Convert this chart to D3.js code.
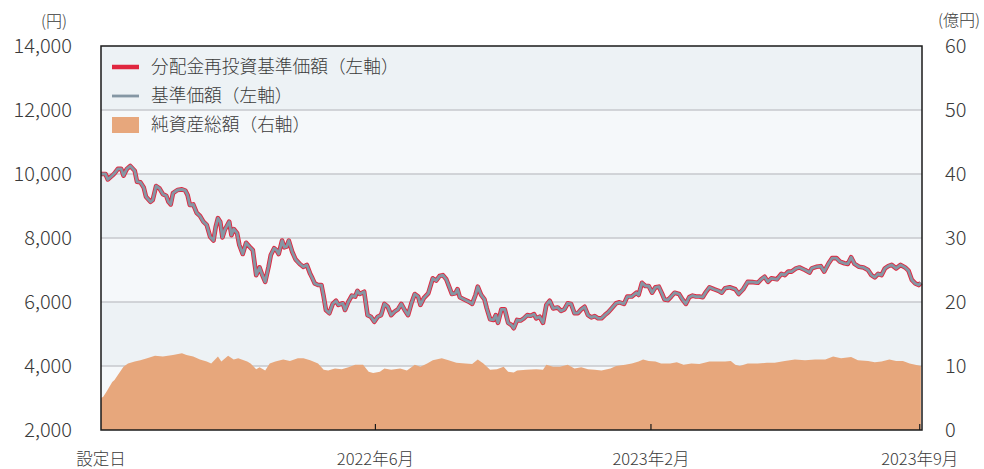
<!DOCTYPE html>
<html>
<head>
<meta charset="utf-8">
<script src="https://cdn.jsdelivr.net/npm/d3@7"></script>
<style>
  html, body { margin: 0; padding: 0; background: #ffffff; }
  svg { display: block; font-family: "Noto Sans CJK JP", "Noto Sans", sans-serif; }
</style>
</head>
<body>
<svg id="chart" width="984" height="469"></svg>
<script>
// ---------------- DATA ----------------
const settingDate = "2021-09-30";           // 設定日
const lastDayOffset = 729;                  // last data day (days after setting date)

// 基準価額 (円): days after setting date, and values
const navDays = [0,4,6,10,12,15,18,20,23,26,30,32,35,38,40,44,46,49,52,55,58,60,62,64,68,72,75,77,79,82,85,88,91,94,97,100,102,104,106,108,110,114,116,118,121,123,126,129,132,135,138,141,143,146,149,151,154,156,158,161,163,165,167,170,173,177,180,183,186,188,190,193,196,198,200,203,206,209,211,215,217,220,223,226,228,230,234,237,240,243,246,249,252,255,258,261,264,267,270,273,276,279,282,284,287,291,295,298,301,304,307,309,312,315,317,319,323,327,330,333,335,338,341,343,346,349,351,353,356,359,362,365,367,370,373,376,379,382,385,387,390,393,396,399,402,406,409,412,415,418,421,424,427,430,433,436,439,442,445,448,451,454,458,461,465,468,472,476,478,481,484,487,490,493,496,499,501,504,507,510,514,517,520,523,526,529,532,535,538,541,545,549,552,555,559,564,567,571,575,580,584,587,590,593,596,601,605,608,611,614,618,621,626,630,632,636,640,643,647,650,654,657,661,664,667,670,674,678,682,685,688,691,694,697,700,703,707,711,715,718,721,724,727,729];
const navValues = [10000,10000,9830,9950,10020,10160,10160,9950,10160,10250,10100,9760,9740,9580,9290,9130,9190,9625,9550,9370,9320,9130,9050,9400,9500,9520,9480,9340,9030,9050,8790,8690,8510,8410,8040,7920,8350,8620,8510,8020,8250,8510,8090,8280,8150,7780,7500,7850,7730,7620,6840,7080,6880,6630,7100,7470,7680,7620,7500,7920,7710,7730,7920,7570,7330,7180,7100,7160,6880,6740,6580,6530,6530,6170,5750,5650,5940,6040,5910,5960,5750,6010,6200,6170,6350,6250,6320,5590,5540,5380,5540,5590,5940,5850,5590,5700,5770,5940,5750,5590,5960,6250,6170,5910,6120,6270,6740,6670,6810,6840,6710,6530,6250,6270,6400,6150,6080,6010,5940,6220,6480,6220,6080,5800,5460,5440,5590,5350,5770,5770,5350,5280,5180,5440,5420,5490,5590,5570,5620,5490,5540,5350,5910,6040,5800,5830,5720,5770,5960,5940,5650,5650,5770,5850,5590,5520,5560,5490,5490,5590,5680,5800,5960,5990,5940,6170,6170,6290,6220,6600,6500,6500,6290,6460,6480,6250,6080,6060,6170,6290,6250,6080,5940,6150,6200,6170,6170,6150,6320,6460,6400,6350,6290,6430,6460,6400,6250,6400,6630,6620,6600,6710,6790,6630,6740,6710,6880,6840,6950,6950,7050,7080,7000,6920,7050,7100,7120,6950,7210,7370,7370,7260,7210,7190,7400,7190,7100,7080,7000,6840,6770,6880,6840,7050,7120,7160,7050,7160,7080,6980,6690,6580,6530,6600];
// 分配金再投資基準価額 (円): no distributions paid, so identical to 基準価額
const reinvestedValues = navValues.slice();

// 純資産総額 (億円)
const assetDays = [0,2,5,10,12,15,20,24,30,35,41,48,55,64,72,76,82,88,94,98,104,107,113,118,122,130,133,138,141,146,150,155,162,168,175,180,186,193,198,202,208,214,220,226,233,238,242,248,252,258,266,272,279,284,290,295,303,309,316,324,330,335,340,346,352,358,362,367,370,378,387,393,396,402,408,415,421,427,433,439,445,453,458,466,472,478,482,487,493,498,506,512,518,525,532,541,549,555,560,564,568,575,584,592,599,608,617,626,635,644,651,658,667,673,682,688,694,701,707,713,719,724,729];
const assetValues = [5.0,5.2,6.0,7.5,7.8,8.6,9.9,10.4,10.7,10.9,11.2,11.6,11.5,11.7,12.0,11.7,11.5,11.0,10.7,10.4,11.5,10.7,11.6,11.0,11.2,10.7,10.4,9.5,9.8,9.3,10.4,10.7,11.0,10.8,11.2,11.2,10.9,10.4,9.4,9.3,9.6,9.5,9.8,10.2,10.2,9.1,8.9,9.1,9.6,9.4,9.6,9.3,10.2,9.9,10.4,10.9,11.2,10.9,10.5,10.4,10.3,11.0,10.4,9.4,9.5,9.9,9.1,9.0,9.3,9.4,9.5,9.4,10.2,9.9,9.9,10.2,9.6,9.8,9.5,9.4,9.3,9.6,10.0,10.2,10.4,10.7,11.0,10.8,10.7,10.4,10.4,10.6,10.2,10.4,10.3,10.7,10.7,10.7,10.8,10.2,10.0,10.4,10.4,10.5,10.5,10.8,11.0,10.9,11.0,11.0,11.5,11.2,11.4,10.9,10.8,10.6,10.7,11.0,10.8,10.8,10.4,10.2,10.0];

// Axes
const leftTicks = [2000,4000,6000,8000,10000,12000,14000];
const rightTicks = [0,10,20,30,40,50,60];
const xTickDates = ["2021-09-30","2022-06-01","2023-02-01","2023-09-28"];
const xTickLabels = ["設定日","2022年6月","2023年2月","2023年9月"];

const legendLabels = ["分配金再投資基準価額（左軸）","基準価額（左軸）","純資産総額（右軸）"];
const leftUnit = "(円)";
const rightUnit = "(億円)";

// ---------------- DRAW ----------------
const svg = d3.select("#chart");
const M = {left: 101, right: 922, top: 46, bottom: 430};
const parse = d3.timeParse("%Y-%m-%d");
const start = parse(settingDate);
const dayToDate = d => d3.timeDay.offset(start, d);

const x = d3.scaleTime()
  .domain([start, dayToDate(lastDayOffset + 1)])
  .range([M.left, M.right]);
const yL = d3.scaleLinear().domain([2000, 14000]).range([M.bottom, M.top]);
const yR = d3.scaleLinear().domain([0, 60]).range([M.bottom, M.top]);

const textColor = "#3a3a3a";

// background bands
const bands = d3.pairs(leftTicks);
svg.append("g").selectAll("rect").data(bands).join("rect")
  .attr("x", M.left).attr("width", M.right - M.left)
  .attr("y", d => yL(d[1])).attr("height", d => yL(d[0]) - yL(d[1]))
  .attr("fill", (d, i) => i % 2 === 0 ? "#f5f8fa" : "#edf2f5");

// gridlines
svg.append("g").selectAll("line").data(leftTicks.slice(1, -1)).join("line")
  .attr("x1", M.left).attr("x2", M.right)
  .attr("y1", d => yL(d)).attr("y2", d => yL(d))
  .attr("stroke", "#c6c9cc").attr("stroke-width", 1.5);

// net assets area
const assetData = assetDays.map((d, i) => ({date: dayToDate(d), v: assetValues[i]}));
const area = d3.area().x(d => x(d.date)).y0(yR(0)).y1(d => yR(d.v));
svg.append("path").datum(assetData)
  .attr("d", area).attr("fill", "#e7a77c");

// lines
const navData = navDays.map((d, i) => ({date: dayToDate(d), v: navValues[i]}));
const reinvData = navDays.map((d, i) => ({date: dayToDate(d), v: reinvestedValues[i]}));
const line = d3.line().x(d => x(d.date)).y(d => yL(d.v)).curve(d3.curveLinear);
svg.append("path").datum(reinvData).attr("d", line)
  .attr("fill", "none").attr("stroke", "#e0273f").attr("stroke-width", 4.6)
  .attr("stroke-linejoin", "round");
svg.append("path").datum(navData).attr("d", line)
  .attr("fill", "none").attr("stroke", "#8597a4").attr("stroke-width", 2.8)
  .attr("stroke-linejoin", "round");

// frame
svg.append("rect")
  .attr("x", M.left).attr("y", M.top)
  .attr("width", M.right - M.left).attr("height", M.bottom - M.top)
  .attr("fill", "none").attr("stroke", "#1a1a1a").attr("stroke-width", 1.5);

// left axis
const fmt = d3.format(",");
svg.append("g").selectAll("text").data(leftTicks).join("text")
  .attr("x", 72).attr("y", d => yL(d)).attr("dy", "0.36em")
  .attr("text-anchor", "end").attr("font-size", 20).attr("font-weight", 300).attr("fill", textColor)
  .text(d => fmt(d));
svg.append("text").attr("x", 54).attr("y", 21).attr("dy", "0.36em")
  .attr("text-anchor", "middle").attr("font-size", 16).attr("font-weight", 300).attr("fill", textColor)
  .text(leftUnit);

// right axis
svg.append("g").selectAll("text").data(rightTicks).join("text")
  .attr("x", 945).attr("y", d => yR(d)).attr("dy", "0.36em")
  .attr("text-anchor", "start").attr("font-size", 20).attr("font-weight", 300).attr("fill", textColor)
  .text(d => d);
svg.append("text").attr("x", 959).attr("y", 20).attr("dy", "0.36em")
  .attr("text-anchor", "middle").attr("font-size", 16).attr("font-weight", 300).attr("fill", textColor)
  .text(rightUnit);

// x axis ticks + labels
const xt = xTickDates.map((s, i) => ({date: parse(s), label: xTickLabels[i]}));
svg.append("g").selectAll("line").data(xt.slice(1)).join("line")
  .attr("x1", d => x(d.date)).attr("x2", d => x(d.date))
  .attr("y1", M.bottom).attr("y2", M.bottom - 6)
  .attr("stroke", "#1a1a1a").attr("stroke-width", 1.2);
svg.append("g").selectAll("text").data(xt).join("text")
  .attr("x", d => x(d.date)).attr("y", 459).attr("dy", "0.36em")
  .attr("text-anchor", "middle").attr("font-size", 16.5).attr("font-weight", 300).attr("fill", textColor)
  .text(d => d.label);

// legend
const lg = svg.append("g").attr("transform", "translate(112,0)");
const rows = [67, 96, 125];
lg.append("line").attr("x1", 0).attr("x2", 27).attr("y1", rows[0]).attr("y2", rows[0])
  .attr("stroke", "#e0273f").attr("stroke-width", 4.5);
lg.append("line").attr("x1", 0).attr("x2", 27).attr("y1", rows[1]).attr("y2", rows[1])
  .attr("stroke", "#8597a4").attr("stroke-width", 2.8);
lg.append("rect").attr("x", 0).attr("width", 27).attr("y", rows[2] - 8).attr("height", 16)
  .attr("fill", "#e7a77c");
lg.selectAll("text.lg").data(legendLabels).join("text").attr("class", "lg")
  .attr("x", 39).attr("y", (d, i) => rows[i]).attr("dy", "0.36em")
  .attr("font-size", 17.7).attr("font-weight", 300).attr("fill", textColor)
  .text(d => d);
</script>
</body>
</html>
